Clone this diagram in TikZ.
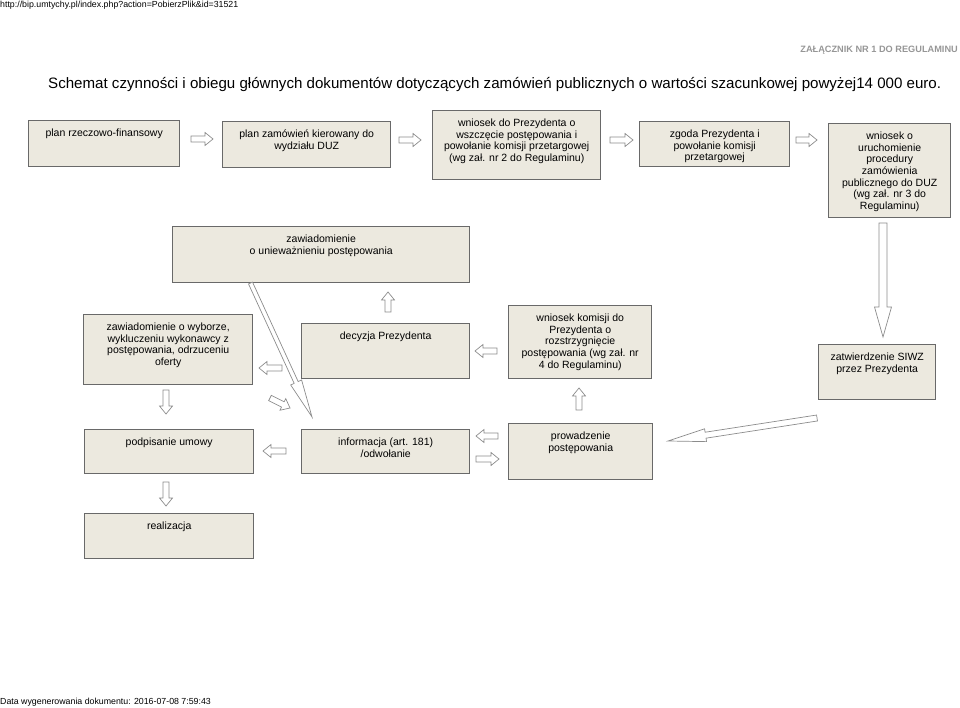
\documentclass[tikz,border=0pt]{standalone}
\usepackage{fontspec}
\setmainfont{Liberation Sans}
\usetikzlibrary{calc}

\definecolor{boxfill}{RGB}{236,233,223}
\definecolor{boxline}{RGB}{105,105,105}
\definecolor{arrline}{RGB}{140,140,140}
\definecolor{notegray}{RGB}{150,150,150}

\tikzset{
  box/.style={draw=boxline, fill=boxfill, line width=1.4pt, anchor=north west, inner sep=0pt},
  boxtext/.style={anchor=north, align=center, inner sep=0pt, yshift=-8.5pt,
    font=\fontsize{10.5}{11.7}\selectfont},
  hollow/.style={draw=arrline, fill=white, line width=0.7pt, line join=miter},
}

% block arrow: tail, tip, shaft half width, head half width, head length
\newcommand{\blockarrow}[5]{%
  \coordinate (hb) at ($(#2)!#5pt!(#1)$);
  \draw[hollow] ($(#1)!#3pt!90:(#2)$) -- ($(hb)!#3pt!90:(#2)$)
    -- ($(hb)!#4pt!90:(#2)$) -- (#2) -- ($(hb)!#4pt!-90:(#2)$)
    -- ($(hb)!#3pt!-90:(#2)$) -- ($(#1)!#3pt!-90:(#2)$) -- cycle;}
\newcommand{\smallarrow}[2]{\blockarrow{#1}{#2}{3}{6.5}{8}}

\begin{document}
\begin{tikzpicture}[x=1pt, y=-1pt]
  \useasboundingbox (0,0) rectangle (960,708);

  \node[anchor=base west, inner sep=0pt, font=\fontsize{8.8}{10}\selectfont] (url) at (0,8)
    {http://bip.umtychy.pl/index.php?action=PobierzPlik\&id=31521};
  \node[anchor=base east, inner sep=0pt, text=notegray, font=\fontsize{9.2}{11}\selectfont\bfseries] (zal) at (958,53)
    {ZAŁĄCZNIK NR 1 DO REGULAMINU};
  \node[anchor=base west, inner sep=0pt, font=\fontsize{15.1}{17}\selectfont] (title) at (48,89)
    {Schemat czynności i obiegu głównych dokumentów dotyczących zamówień publicznych o wartości szacunkowej powyżej14 000 euro.};
  \node[anchor=base west, inner sep=0pt, font=\fontsize{8.8}{10}\selectfont] (data) at (0,704)
    {Data wygenerowania dokumentu: 2016-07-08 7:59:43};

  \node[box, minimum width=151pt, minimum height=46pt] (rzecz) at (28,120) {};
  \node[boxtext] (rzeczT) at (rzecz.north) {plan rzeczowo-finansowy};
  \node[box, minimum width=168pt, minimum height=46pt] (plan) at (222,121) {};
  \node[boxtext] (planT) at (plan.north) {plan zamówień kierowany do\\wydziału DUZ};
  \node[box, minimum width=168pt, minimum height=69pt] (wniosek) at (432,110) {};
  \node[boxtext] (wniosekT) at (wniosek.north) {wniosek do Prezydenta o\\wszczęcie postępowania i\\powołanie komisji przetargowej\\(wg zał. nr 2 do Regulaminu)};
  \node[box, minimum width=150pt, minimum height=45pt] (zgoda) at (639,121) {};
  \node[boxtext] (zgodaT) at (zgoda.north) {zgoda Prezydenta i\\powołanie komisji\\przetargowej};
  \node[box, minimum width=122pt, minimum height=94pt] (uruch) at (828,123) {};
  \node[boxtext] (uruchT) at (uruch.north) {wniosek o\\uruchomienie\\procedury\\zamówienia\\publicznego do DUZ\\(wg zał. nr 3 do\\Regulaminu)};
  \node[box, minimum width=117pt, minimum height=55pt] (siwz) at (818,344) {};
  \node[boxtext] (siwzT) at (siwz.north) {zatwierdzenie SIWZ\\przez Prezydenta};

  \node[box, minimum width=297pt, minimum height=56pt] (uniew) at (172,226) {};
  \node[boxtext] (uniewT) at (uniew.north) {zawiadomienie\\o unieważnieniu postępowania};

  \node[box, minimum width=169pt, minimum height=70pt] (wybor) at (83,314) {};
  \node[boxtext] (wyborT) at (wybor.north) {zawiadomienie o wyborze,\\wykluczeniu wykonawcy z\\postępowania, odrzuceniu\\oferty};
  \node[box, minimum width=168pt, minimum height=55pt] (decyzja) at (301,323) {};
  \node[boxtext] (decyzjaT) at (decyzja.north) {decyzja Prezydenta};
  \node[box, minimum width=143pt, minimum height=73pt] (rozstrz) at (508,305) {};
  \node[boxtext] (rozstrzT) at (rozstrz.north) {wniosek komisji do\\Prezydenta o\\rozstrzygnięcie\\postępowania (wg zał. nr\\4 do Regulaminu)};

  \node[box, minimum width=169pt, minimum height=44pt] (umowa) at (84,429) {};
  \node[boxtext] (umowaT) at (umowa.north) {podpisanie umowy};
  \node[box, minimum width=168pt, minimum height=44pt] (info) at (301,429) {};
  \node[boxtext] (infoT) at (info.north) {informacja (art. 181)\\/odwołanie};
  \node[box, minimum width=144pt, minimum height=56pt] (prowadz) at (508,423) {};
  \node[boxtext] (prowadzT) at (prowadz.north) {prowadzenie\\postępowania};

  \node[box, minimum width=169pt, minimum height=45pt] (realiz) at (84,513) {};
  \node[boxtext] (realizT) at (realiz.north) {realizacja};

  \foreach \n/\x/\y in {r1a/191/139, r1b/213/139, r2a/399/140, r2b/421/140,
      r3a/610/140, r3b/633/140, r4a/796/140, r4b/817/140,
      d5a/883/223, d5b/883/337, s6a/817/418, s6b/668/441,
      u7a/579/410, u7b/579/388, l8a/498/436, l8b/476/436,
      r9a/476/459, r9b/499/459, l10a/286/451, l10b/263/451,
      d11a/166/482, d11b/166/506, d12a/166/390, d12b/166/414,
      l13a/282/368, l13b/259/368, u14a/388/312, u14b/388/292,
      l15a/497/351, l15b/475/351, g16a/270/398, g16b/290/408,
      g17a/250.5/283, g17b/312/417}
    \coordinate (\n) at (\x,\y);

  \smallarrow{r1a}{r1b};
  \smallarrow{r2a}{r2b};
  \smallarrow{r3a}{r3b};
  \smallarrow{r4a}{r4b};
  \blockarrow{d5a}{d5b}{4}{8.5}{30};
  \blockarrow{s6a}{s6b}{3}{6.5}{38};
  \smallarrow{u7a}{u7b};
  \smallarrow{l8a}{l8b};
  \smallarrow{r9a}{r9b};
  \smallarrow{l10a}{l10b};
  \smallarrow{d11a}{d11b};
  \smallarrow{d12a}{d12b};
  \smallarrow{l13a}{l13b};
  \smallarrow{u14a}{u14b};
  \smallarrow{l15a}{l15b};
  \smallarrow{g16a}{g16b};
  \blockarrow{g17a}{g17b}{2.2}{6}{38};
\end{tikzpicture}
\end{document}
